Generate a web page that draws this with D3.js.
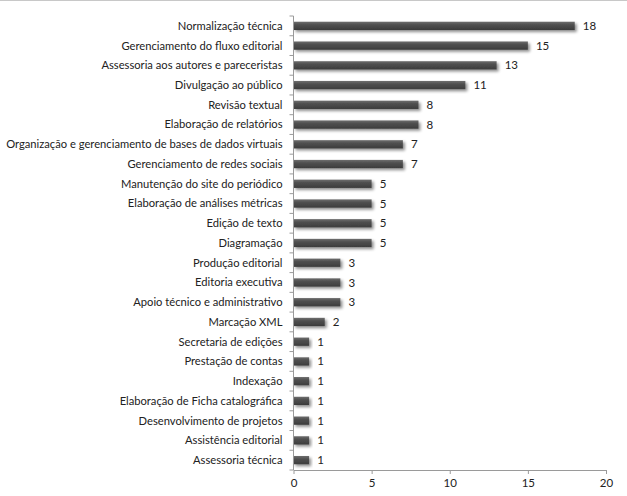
<!DOCTYPE html>
<html>
<head>
<meta charset="utf-8">
<script src="https://cdn.jsdelivr.net/npm/d3@7"></script>
<style>
  body { margin: 0; background: #fff; }
  svg { display: block; font-family: Lato, "Open Sans", sans-serif; }
</style>
</head>
<body>
<svg id="chart" width="627" height="496"></svg>
<script>
// categories, top to bottom
var categories = [
  "Normalização técnica",
  "Gerenciamento do fluxo editorial",
  "Assessoria aos autores e pareceristas",
  "Divulgação ao público",
  "Revisão textual",
  "Elaboração de relatórios",
  "Organização e gerenciamento de bases de dados virtuais",
  "Gerenciamento de redes sociais",
  "Manutenção do site do periódico",
  "Elaboração de análises métricas",
  "Edição de texto",
  "Diagramação",
  "Produção editorial",
  "Editoria executiva",
  "Apoio técnico e administrativo",
  "Marcação XML",
  "Secretaria de edições",
  "Prestação de contas",
  "Indexação",
  "Elaboração de Ficha catalográfica",
  "Desenvolvimento de projetos",
  "Assistência editorial",
  "Assessoria técnica"
];
var values = [18, 15, 13, 11, 8, 8, 7, 7, 5, 5, 5, 5, 3, 3, 3, 2, 1, 1, 1, 1, 1, 1, 1];
var xTicks = [0, 5, 10, 15, 20];

var svg = d3.select("#chart");
var margin = {left: 293.5, right: 21, top: 16, bottom: 26};
var width = 627 - margin.left - margin.right,
    height = 496 - margin.top - margin.bottom;
var fontSize = 11.2;

// thin grey rule along the top edge
svg.append("line")
  .attr("x1", 0).attr("x2", 627)
  .attr("y1", 0.5).attr("y2", 0.5)
  .attr("stroke", "#c8c8c8");

var defs = svg.append("defs");
var grad = defs.append("linearGradient").attr("id", "barGrad")
  .attr("x1", 0).attr("x2", 0).attr("y1", 0).attr("y2", 1);
grad.append("stop").attr("offset", "0%").attr("stop-color", "#6e6e6e");
grad.append("stop").attr("offset", "35%").attr("stop-color", "#505050");
grad.append("stop").attr("offset", "100%").attr("stop-color", "#3c3c3c");

var shadow = defs.append("filter").attr("id", "shadow")
  .attr("x", "-10%").attr("y", "-50%").attr("width", "130%").attr("height", "250%");
shadow.append("feGaussianBlur").attr("in", "SourceAlpha").attr("stdDeviation", 1.4);
shadow.append("feOffset").attr("dx", 1.5).attr("dy", 2).attr("result", "off");
shadow.append("feComponentTransfer").append("feFuncA").attr("type", "linear").attr("slope", 0.45);
var merge = shadow.append("feMerge");
merge.append("feMergeNode");
merge.append("feMergeNode").attr("in", "SourceGraphic");

var g = svg.append("g").attr("transform", "translate(" + margin.left + "," + margin.top + ")");

var x = d3.scaleLinear().domain([0, 20]).range([0, width]);
var y = d3.scaleBand().domain(categories).range([0, height]).paddingInner(0.58).paddingOuter(0.29);

// bars
g.selectAll(".bar").data(values).enter().append("rect")
  .attr("class", "bar")
  .attr("x", 0)
  .attr("y", function(d, i) { return y(categories[i]); })
  .attr("width", function(d) { return x(d); })
  .attr("height", y.bandwidth())
  .attr("fill", "url(#barGrad)")
  .attr("filter", "url(#shadow)");

// value labels
g.selectAll(".value").data(values).enter().append("text")
  .attr("class", "value")
  .attr("x", function(d) { return x(d) + 8; })
  .attr("y", function(d, i) { return y(categories[i]) + y.bandwidth() / 2; })
  .attr("dy", "0.35em")
  .attr("font-size", "11.5px")
  .attr("fill", "#222")
  .text(function(d) { return d; });

// y axis: ticks sit on the band boundaries
var step = height / categories.length;
var yAxisG = g.append("g").attr("class", "y-axis");
yAxisG.append("line")
  .attr("x1", 0).attr("x2", 0).attr("y1", 0).attr("y2", height)
  .attr("stroke", "#9a9a9a");
yAxisG.selectAll(".ytick").data(d3.range(categories.length + 1)).enter().append("line")
  .attr("x1", -4).attr("x2", 0)
  .attr("y1", function(i) { return i * step; })
  .attr("y2", function(i) { return i * step; })
  .attr("stroke", "#9a9a9a");
yAxisG.selectAll(".ylabel").data(categories).enter().append("text")
  .attr("x", -11)
  .attr("y", function(d) { return y(d) + y.bandwidth() / 2; })
  .attr("dy", "0.35em")
  .attr("text-anchor", "end")
  .attr("font-size", fontSize + "px")
  .attr("fill", "#222")
  .text(function(d) { return d; });

// x axis
var xAxis = d3.axisBottom(x).tickValues(xTicks).tickSize(4).tickSizeOuter(0);
var xAxisG = g.append("g").attr("transform", "translate(0," + height + ")").call(xAxis);
xAxisG.select(".domain").attr("stroke", "#9a9a9a");
xAxisG.selectAll(".tick line").attr("stroke", "#9a9a9a");
xAxisG.selectAll(".tick text")
  .attr("font-family", "Lato, sans-serif")
  .attr("font-size", "11.5px")
  .attr("fill", "#222")
  .attr("y", 9);
</script>
</body>
</html>
